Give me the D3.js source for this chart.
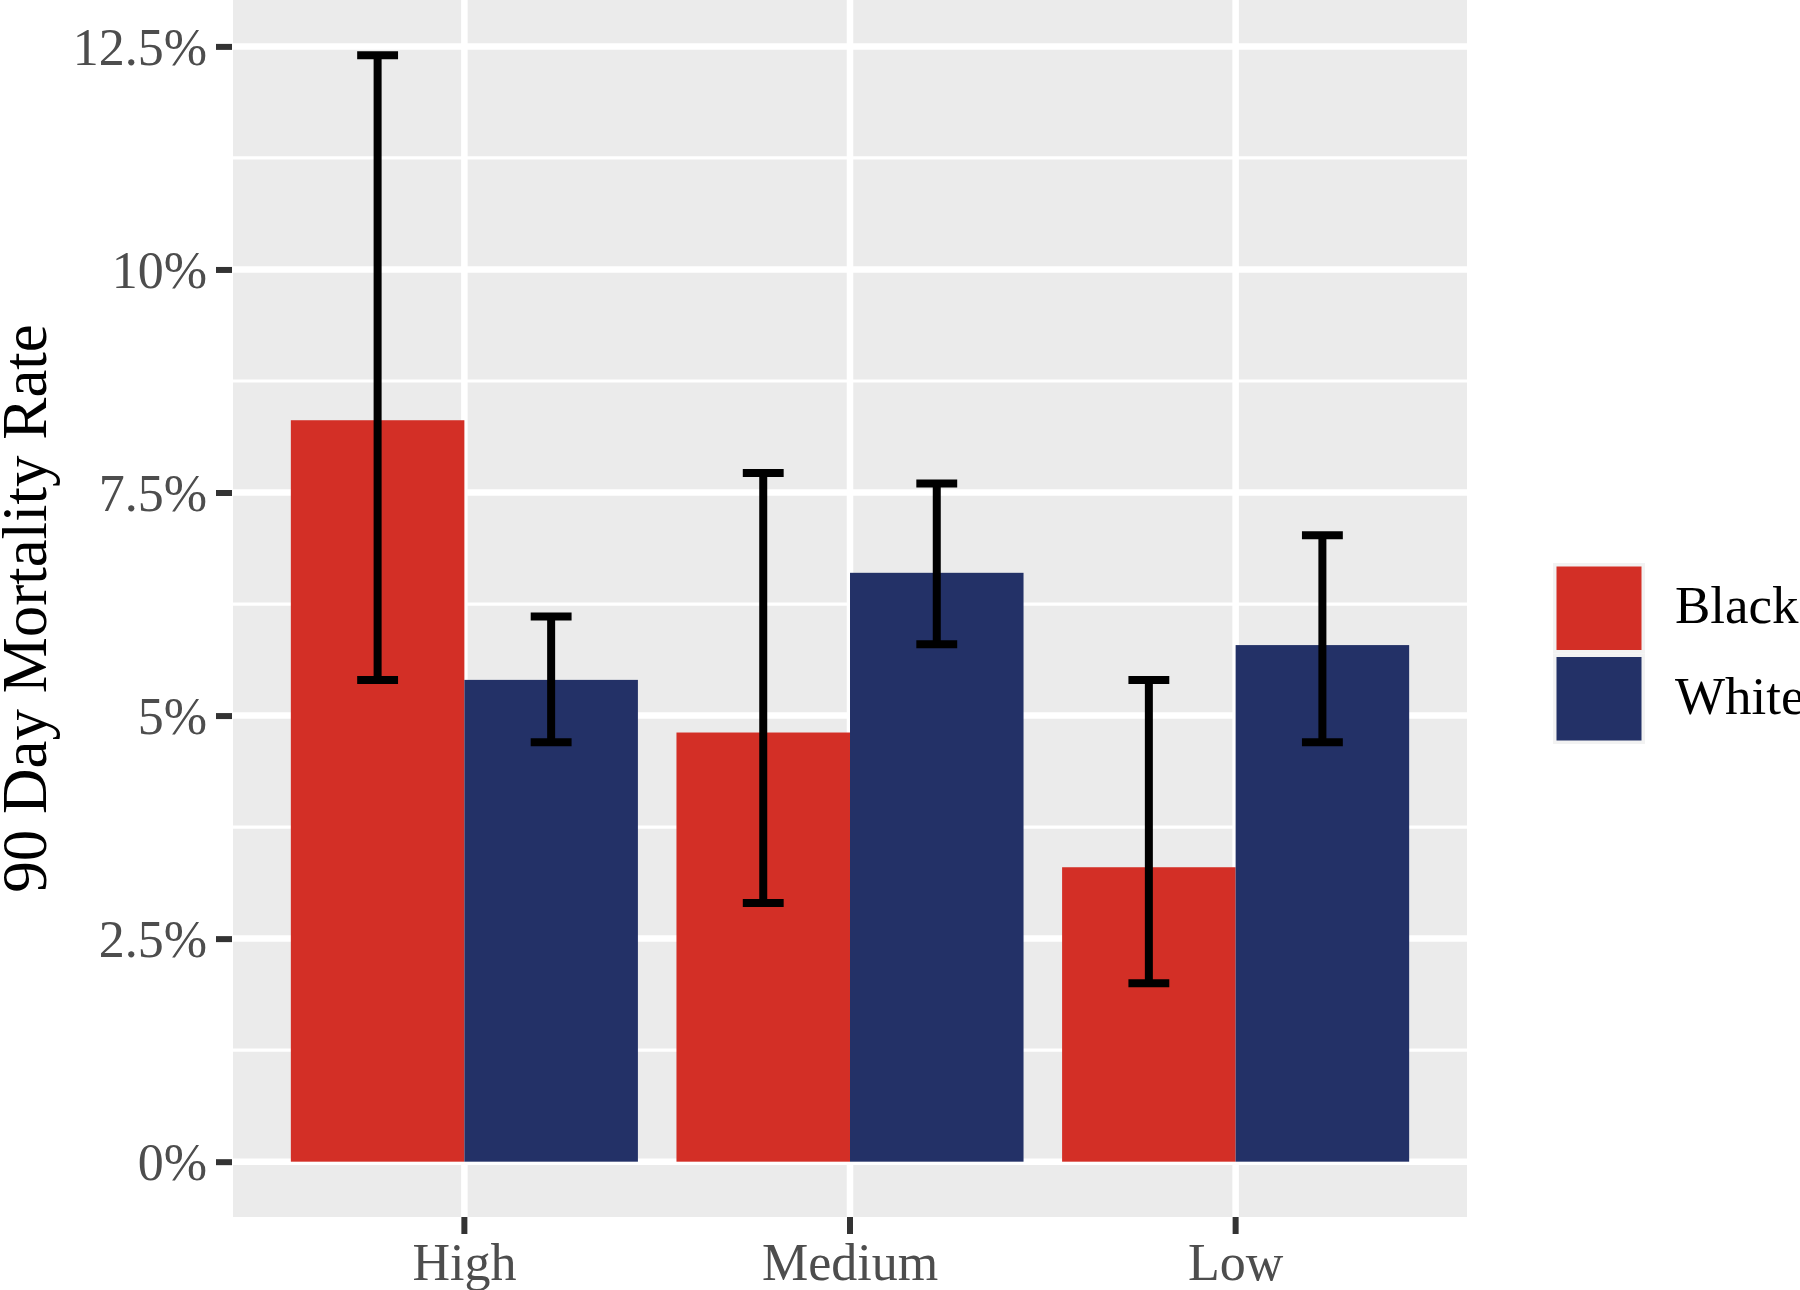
<!DOCTYPE html>
<html>
<head>
<meta charset="utf-8">
<script src="https://cdn.jsdelivr.net/npm/d3@7"></script>
<style>
  body { margin: 0; background: #fff; }
  text { font-family: "Liberation Serif", "Times New Roman", serif; }
</style>
</head>
<body>
<div id="chart"></div>
<script>
// data (percent)
const categories = ["High", "Medium", "Low"];
const groups = ["Black", "White"];
const rateBlack = [8.31, 4.81, 3.30];
const rateWhite = [5.40, 6.60, 5.79];
const lowerBlack = [5.40, 2.90, 2.00];
const upperBlack = [12.40, 7.72, 5.40];
const lowerWhite = [4.70, 5.80, 4.70];
const upperWhite = [6.11, 7.60, 7.02];
const yTicks = [0, 2.5, 5, 7.5, 10, 12.5];
const yMinor = [1.25, 3.75, 6.25, 8.75, 11.25];

const colors = { Black: "#d32f26", White: "#233167" };

// table built from arrays
const rows = [];
categories.forEach((c, i) => {
    rows.push({ cat: c, grp: "Black", v: rateBlack[i], lo: lowerBlack[i], hi: upperBlack[i] });
    rows.push({ cat: c, grp: "White", v: rateWhite[i], lo: lowerWhite[i], hi: upperWhite[i] });
});

const W = 1800, H = 1290;
const panel = { left: 233, right: 1467, top: 0, bottom: 1217 };

const svg = d3.select("#chart").append("svg")
    .attr("width", W)
    .attr("height", H);

// scales
const x = d3.scaleBand()
    .domain(categories)
    .range([panel.left, panel.right])
    .paddingInner(0.1)
    .paddingOuter(0.15);
const x1 = d3.scaleBand().domain(groups).range([0, x.bandwidth()]);

const dataMax = d3.max(rows, d => d.hi);
const pad = dataMax * 0.05;
const y = d3.scaleLinear().domain([0 - pad, dataMax + pad]).range([panel.bottom, panel.top]);

// panel background
svg.append("rect")
    .attr("x", panel.left).attr("y", panel.top)
    .attr("width", panel.right - panel.left)
    .attr("height", panel.bottom - panel.top)
    .attr("fill", "#ebebeb");

// grid lines
svg.append("g").selectAll("line").data(yMinor).join("line")
    .attr("x1", panel.left).attr("x2", panel.right)
    .attr("y1", d => y(d)).attr("y2", d => y(d))
    .attr("stroke", "#fff").attr("stroke-width", 3.2);
svg.append("g").selectAll("line").data(yTicks).join("line")
    .attr("x1", panel.left).attr("x2", panel.right)
    .attr("y1", d => y(d)).attr("y2", d => y(d))
    .attr("stroke", "#fff").attr("stroke-width", 6.5);
svg.append("g").selectAll("line").data(categories).join("line")
    .attr("x1", d => x(d) + x.bandwidth() / 2).attr("x2", d => x(d) + x.bandwidth() / 2)
    .attr("y1", panel.top).attr("y2", panel.bottom)
    .attr("stroke", "#fff").attr("stroke-width", 6.5);

// bars
svg.append("g").selectAll("rect").data(rows).join("rect")
    .attr("x", d => x(d.cat) + x1(d.grp))
    .attr("width", x1.bandwidth())
    .attr("y", d => y(d.v))
    .attr("height", d => y(0) - y(d.v))
    .attr("fill", d => colors[d.grp]);

// error bars
const capHalf = x.step() * 0.053;
const eb = svg.append("g").attr("stroke", "#000").attr("stroke-width", 8).attr("fill", "none");
rows.forEach(d => {
    const cx = x(d.cat) + x1(d.grp) + x1.bandwidth() / 2;
    eb.append("line").attr("x1", cx).attr("x2", cx).attr("y1", y(d.lo)).attr("y2", y(d.hi));
    eb.append("line").attr("x1", cx - capHalf).attr("x2", cx + capHalf).attr("y1", y(d.hi)).attr("y2", y(d.hi));
    eb.append("line").attr("x1", cx - capHalf).attr("x2", cx + capHalf).attr("y1", y(d.lo)).attr("y2", y(d.lo));
});

// axes
const yAxis = d3.axisLeft(y).tickValues(yTicks).tickSize(16).tickPadding(9)
    .tickFormat(d => d + "%");
const gy = svg.append("g").attr("transform", `translate(${panel.left - 1},0)`).call(yAxis);
gy.select(".domain").remove();
gy.selectAll(".tick line").attr("stroke", "#333").attr("stroke-width", 6);
gy.selectAll(".tick text").attr("fill", "#4d4d4d").style("font-size", "52px")
    .attr("dy", "0.34em");

const xAxis = d3.axisBottom(x).tickSize(17).tickPadding(9);
const gx = svg.append("g").attr("transform", `translate(0,${panel.bottom})`).call(xAxis);
gx.select(".domain").remove();
gx.selectAll(".tick line").attr("stroke", "#333").attr("stroke-width", 6);
gx.selectAll(".tick text").attr("fill", "#4d4d4d").style("font-size", "52px");

// y axis title
svg.append("text")
    .attr("transform", `translate(46,${(panel.top + panel.bottom) / 2}) rotate(-90)`)
    .attr("text-anchor", "middle")
    .style("font-size", "63px")
    .attr("fill", "#000")
    .text("90 Day Mortality Rate");

// legend
const legY = 563, keyH = 90.5, keyW = 92, legX = 1553;
const leg = svg.append("g");
groups.forEach((g, i) => {
    const ky = legY + i * keyH;
    leg.append("rect").attr("x", legX).attr("y", ky).attr("width", keyW).attr("height", keyH)
        .attr("fill", "#f2f2f2");
    leg.append("rect").attr("x", legX + 3.5).attr("y", ky + 3.5)
        .attr("width", keyW - 7).attr("height", keyH - 7)
        .attr("fill", colors[g]);
    leg.append("text").attr("x", 1675).attr("y", ky + keyH / 2 + 15)
        .style("font-size", "53px").attr("fill", "#000")
        .text(g);
});
</script>
</body>
</html>
